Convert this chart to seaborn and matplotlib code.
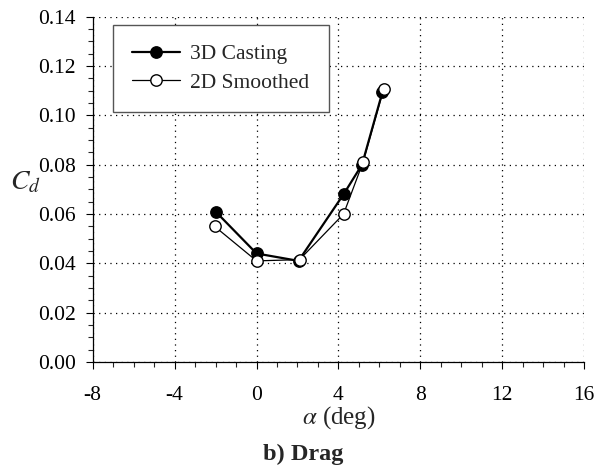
import matplotlib
matplotlib.use("Agg")
import matplotlib.pyplot as plt
import seaborn as sns
from matplotlib.ticker import MultipleLocator

sns.set_style("ticks")
plt.rcParams['font.family'] = ['Liberation Serif', 'DejaVu Serif']
plt.rcParams['mathtext.fontset'] = 'stix'

alpha_3d = [-2.0, 0.0, 2.05, 4.25, 5.15, 6.15]
cd_3d = [0.061, 0.044, 0.041, 0.068, 0.080, 0.1095]
alpha_2d = [-2.05, 0.0, 2.1, 4.25, 5.2, 6.2]
cd_2d = [0.055, 0.041, 0.0415, 0.060, 0.081, 0.1105]
x_ticks = [-8, -4, 0, 4, 8, 12, 16]
y_ticks = [0.00, 0.02, 0.04, 0.06, 0.08, 0.10, 0.12, 0.14]

fig = plt.figure(figsize=(6.06, 4.68), dpi=100)
ax = fig.add_axes([0.153, 0.2265, 0.811, 0.7378])

sns.lineplot(x=alpha_3d, y=cd_3d, ax=ax, sort=False, color='black', lw=1.6,
             marker='o', markersize=8.2, markerfacecolor='black',
             markeredgecolor='black', markeredgewidth=1.0, label='3D Casting', zorder=3)
sns.lineplot(x=alpha_2d, y=cd_2d, ax=ax, sort=False, color='black', lw=0.9,
             marker='o', markersize=8.2, markerfacecolor='white',
             markeredgecolor='black', markeredgewidth=1.0, label='2D Smoothed', zorder=4)

ax.set_xlim(-8, 16)
ax.set_ylim(0, 0.14)
ax.set_xticks(x_ticks)
ax.set_yticks(y_ticks)
ax.set_xticklabels([str(t) for t in x_ticks])
ax.set_yticklabels([f"{t:.2f}" for t in y_ticks])
ax.xaxis.set_minor_locator(MultipleLocator(1))
ax.yaxis.set_minor_locator(MultipleLocator(0.005))
ax.tick_params(axis='both', which='major', direction='out', length=5, width=0.8,
               labelsize=15.5, colors='black')
ax.tick_params(axis='both', which='minor', direction='out', length=3.5, width=0.8)
ax.tick_params(axis='x', pad=12)
ax.tick_params(axis='y', pad=7)

ax.grid(True, which='major', color='black', linestyle=(0, (1, 3.5)), linewidth=0.9)
for s in ['top', 'right']:
    ax.spines[s].set_visible(False)
for s in ['left', 'bottom']:
    ax.spines[s].set_color('black')
    ax.spines[s].set_linewidth(0.9)

ax.set_xlabel(r'$\alpha$ (deg)', fontsize=18, labelpad=0)
ax.xaxis.set_label_coords(0.5, -0.162)
ax.xaxis.label.set_va('center')
ax.set_ylabel(r'$C_d$', fontsize=20, rotation=0, ha='center', va='center')
ax.yaxis.set_label_coords(-0.138, 0.52)

leg = ax.legend(loc='upper left', bbox_to_anchor=(0.028, 0.995), fontsize=15.5,
                frameon=True, fancybox=False, handlelength=2.2, handletextpad=0.5,
                borderpad=0.9, labelspacing=0.4, borderaxespad=0.3)
leg.get_frame().set_edgecolor('#555555')
leg.get_frame().set_linewidth(1.0)
leg.get_frame().set_alpha(1)

fig.text(0.5, 1 - 454 / 468, 'b) Drag', ha='center', va='center', fontsize=17.5, fontweight='bold')

fig.savefig('out.png', dpi=100)
